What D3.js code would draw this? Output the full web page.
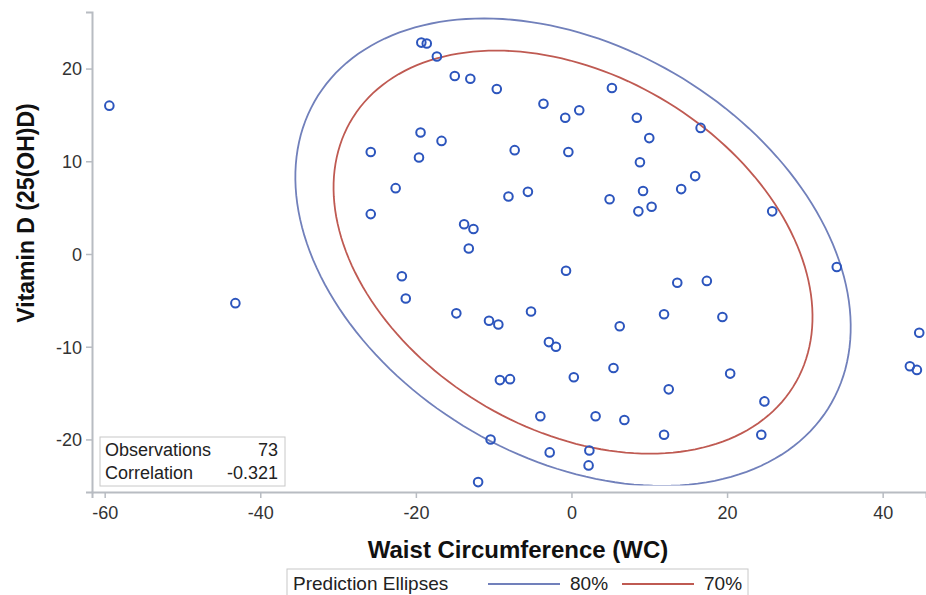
<html>
  <head>
    <meta charset="utf-8" />
  </head>
  <script src="https://d3js.org/d3.v7.min.js"></script>
  <style>
    body,
    html {
      margin: 0;
      padding: 0;
      background: white;
    }
    text {
      font-family: "Liberation Sans", Arial, sans-serif;
    }
  </style>
  <body>
    <svg id="chart" width="926" height="595"></svg>
    <script>
      // waist circumference (centred), one entry per observation
      const wc = [
        -59.4, -43.2, -19.3, -18.6, -17.3, -15.0, -13.0, -9.6, -3.6, -0.8,
        1.0, 5.2, -19.4, -16.7, -25.8, -19.6, -7.3, -0.4, -22.6, -8.1,
        -5.6, 4.9, -25.8, -13.8, -12.6, -13.2, -21.8, -0.7, 8.4, 10.0,
        8.8, 15.9, 14.1, 9.2, 8.6, 10.3, 16.6, 25.8, 34.1, 13.6,
        17.4, -21.3, -14.8, -10.6, -9.4, -5.2, 6.2, -2.9, -2.0, 5.4,
        -9.2, -7.9, 0.3, -4.0, 3.1, -10.4, -2.8, 2.3, 2.2, -12.0,
        6.8, 11.9, 19.4, 20.4, 12.5, 24.8, 11.9, 24.4, 44.7, 43.5,
        44.4,
      ];
      // vitamin D (centred), same order
      const vitD = [
        16.0, -5.3, 22.8, 22.7, 21.3, 19.2, 18.9, 17.8, 16.2, 14.7,
        15.5, 17.9, 13.1, 12.2, 11.0, 10.4, 11.2, 11.0, 7.1, 6.2,
        6.7, 5.9, 4.3, 3.2, 2.7, 0.6, -2.4, -1.8, 14.7, 12.5,
        9.9, 8.4, 7.0, 6.8, 4.6, 5.1, 13.6, 4.6, -1.4, -3.1,
        -2.9, -4.8, -6.4, -7.2, -7.6, -6.2, -7.8, -9.5, -10.0, -12.3,
        -13.6, -13.5, -13.3, -17.5, -17.5, -20.0, -21.4, -21.2, -22.8, -24.6,
        -17.9, -6.5, -6.8, -12.9, -14.6, -15.9, -19.5, -19.5, -8.5, -12.1,
        -12.5,
      ];

      const xTicks = [-60, -40, -20, 0, 20, 40];
      const yTicks = [-20, -10, 0, 10, 20];

      // summary stats behind the ellipses (all 73 obs)
      const nObs = 73;
      const correlation = -0.321;
      const ellipseCenter = [0.2, 0.2];
      const ellipseSD = [19.4, 13.7];

      const ellipseLevels = [0.8, 0.7];
      const ellipseLabels = ["80%", "70%"];
      const ellipseColors = ["#7180bb", "#bf5a52"];

      const statLabels = ["Observations", "Correlation"];
      const statValues = ["73", "-0.321"];

      const svg = d3.select("#chart");

      const x = d3.scaleLinear().domain([-61.63, 45.57]).range([92, 926]);
      const y = d3.scaleLinear().domain([-25.67, 26.1]).range([492, 12]);

      svg
        .append("defs")
        .append("clipPath")
        .attr("id", "plot-clip")
        .append("rect")
        .attr("x", 92)
        .attr("y", 12)
        .attr("width", 834)
        .attr("height", 473.5);

      // covariance from sd + correlation
      const sxx = ellipseSD[0] ** 2;
      const syy = ellipseSD[1] ** 2;
      const sxy = correlation * ellipseSD[0] * ellipseSD[1];

      const half = (sxx + syy) / 2;
      const disc = Math.sqrt(((sxx - syy) / 2) ** 2 + sxy ** 2);
      const l1 = half + disc;
      const l2 = half - disc;
      const theta = 0.5 * Math.atan2(2 * sxy, sxx - syy);

      const ellipsePoints = (level) => {
        // F(2, n-2) quantile has a closed form
        const n = nObs;
        const m = n - 2;
        const f = (m / 2) * (Math.pow(1 - level, -2 / m) - 1);
        const c = Math.sqrt(((2 * (n - 1) * (n + 1)) / (n * (n - 2))) * f);
        return d3.range(0, 361, 2).map((deg) => {
          const t = (deg * Math.PI) / 180;
          const a = c * Math.sqrt(l1) * Math.cos(t);
          const b = c * Math.sqrt(l2) * Math.sin(t);
          return [
            ellipseCenter[0] + a * Math.cos(theta) - b * Math.sin(theta),
            ellipseCenter[1] + a * Math.sin(theta) + b * Math.cos(theta),
          ];
        });
      };

      const line = d3
        .line()
        .x((d) => x(d[0]))
        .y((d) => y(d[1]))
        .curve(d3.curveLinearClosed);

      svg
        .append("g")
        .attr("clip-path", "url(#plot-clip)")
        .selectAll("path")
        .data(ellipseLevels)
        .join("path")
        .attr("d", (d) => line(ellipsePoints(d)))
        .attr("fill", "none")
        .attr("stroke", (d, i) => ellipseColors[i])
        .attr("stroke-width", 1.8);

      // axes
      const fmt = (d) => String(d);
      const yAxis = svg
        .append("g")
        .attr("transform", "translate(92,0)")
        .call(
          d3.axisLeft(y).tickValues(yTicks).tickFormat(fmt).tickSize(6).tickPadding(4)
        );
      const xAxis = svg
        .append("g")
        .attr("transform", "translate(0,492)")
        .call(
          d3.axisBottom(x).tickValues(xTicks).tickFormat(fmt).tickSize(6).tickPadding(8)
        );

      [xAxis, yAxis].forEach((g) => {
        g.select(".domain").attr("stroke", "#b8bcc2").attr("stroke-width", 2);
        g.selectAll(".tick line").attr("stroke", "#b8bcc2").attr("stroke-width", 1.5);
        g.selectAll(".tick text")
          .attr("fill", "#333")
          .style("font-size", "18px")
          .style("font-family", "'Liberation Sans', Arial, sans-serif");
      });
      yAxis.selectAll(".tick text").attr("dy", "0.35em");

      // points
      svg
        .append("g")
        .selectAll("circle")
        .data(wc)
        .join("circle")
        .attr("cx", (d) => x(d))
        .attr("cy", (d, i) => y(vitD[i]))
        .attr("r", 4.3)
        .attr("fill", "none")
        .attr("stroke", "#2c55bd")
        .attr("stroke-width", 2);

      // axis titles
      svg
        .append("text")
        .attr("x", 518)
        .attr("y", 558)
        .attr("text-anchor", "middle")
        .style("font-size", "24px")
        .style("font-weight", "bold")
        .attr("fill", "#111")
        .text("Waist Circumference (WC)");

      svg
        .append("text")
        .attr("transform", "translate(34,213) rotate(-90)")
        .attr("text-anchor", "middle")
        .style("font-size", "23px")
        .style("font-weight", "bold")
        .attr("fill", "#111")
        .text("Vitamin D (25(OH)D)");

      // inset statistics
      const inset = svg.append("g");
      inset
        .append("rect")
        .attr("x", 100)
        .attr("y", 437)
        .attr("width", 185)
        .attr("height", 49)
        .attr("fill", "white")
        .attr("stroke", "#c8c8c8");
      inset
        .selectAll("text.lab")
        .data(statLabels)
        .join("text")
        .attr("class", "lab")
        .attr("x", 105)
        .attr("y", (d, i) => 456 + i * 23)
        .style("font-size", "18px")
        .attr("fill", "#222")
        .text((d) => d);
      inset
        .selectAll("text.val")
        .data(statValues)
        .join("text")
        .attr("class", "val")
        .attr("x", 278)
        .attr("y", (d, i) => 456 + i * 23)
        .attr("text-anchor", "end")
        .style("font-size", "18px")
        .attr("fill", "#222")
        .text((d) => d);

      // legend
      const legend = svg.append("g");
      legend
        .append("rect")
        .attr("x", 287)
        .attr("y", 569)
        .attr("width", 461)
        .attr("height", 30)
        .attr("fill", "white")
        .attr("stroke", "#c8c8c8");
      legend
        .append("text")
        .attr("x", 293)
        .attr("y", 590)
        .style("font-size", "19px")
        .attr("fill", "#222")
        .text("Prediction Ellipses");
      const legendX = [488, 622];
      ellipseLabels.forEach((lab, i) => {
        legend
          .append("line")
          .attr("x1", legendX[i])
          .attr("x2", legendX[i] + 72)
          .attr("y1", 584)
          .attr("y2", 584)
          .attr("stroke", ellipseColors[i])
          .attr("stroke-width", 1.8);
        legend
          .append("text")
          .attr("x", legendX[i] + 82)
          .attr("y", 590)
          .style("font-size", "19px")
          .attr("fill", "#222")
          .text(lab);
      });
    </script>
  </body>
</html>
